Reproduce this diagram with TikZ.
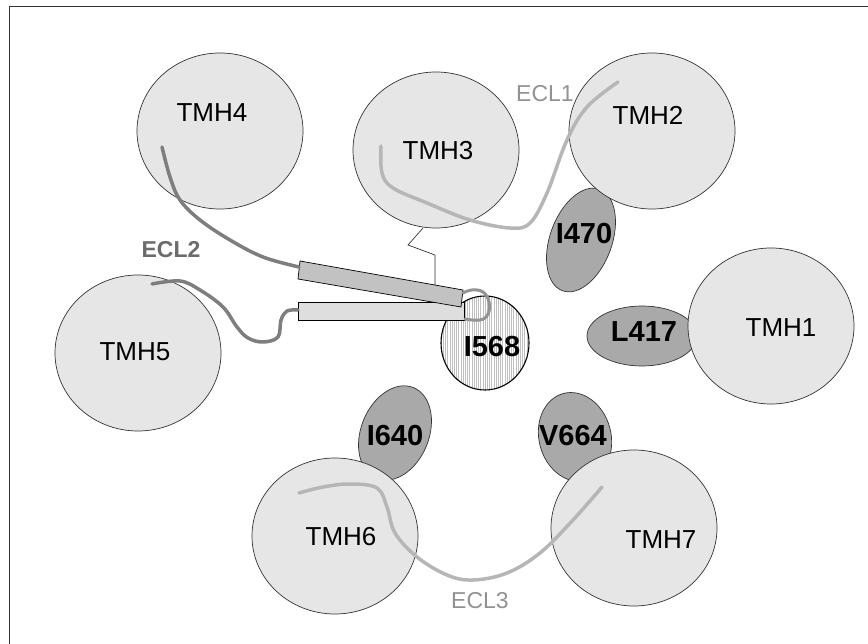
\documentclass[tikz,border=0pt]{standalone}
\usepackage{fontspec}
\newfontfamily\arialf{Liberation Sans}
\usetikzlibrary{shapes.geometric}
\definecolor{bigfill}{HTML}{E6E6E6}
\definecolor{smallfill}{HTML}{A9A9A9}
\definecolor{outl}{HTML}{333333}
\definecolor{ecldark}{HTML}{7E7E7E}
\definecolor{ecllight}{HTML}{B6B6B6}
\definecolor{rectdark}{HTML}{C2C2C2}
\definecolor{rectlight}{HTML}{DEDEDE}
\tikzset{
  bigc/.style={ellipse, draw=outl, line width=0.7pt, fill=bigfill, minimum width=166, minimum height=156, inner sep=0pt},
  smallc/.style={ellipse, draw=outl, line width=0.7pt, fill=smallfill, inner sep=0pt},
  tmhlab/.style={font=\arialf\fontsize{26}{28}\selectfont, text=black, inner sep=0pt},
  reslab/.style={font=\arialf\bfseries\fontsize{29}{32}\selectfont, text=black, inner sep=0pt},
  ecllab/.style={font=\arialf\fontsize{23}{26}\selectfont, text=ecllight!80!black, inner sep=0pt},
  ecl2lab/.style={font=\arialf\bfseries\fontsize{23}{26}\selectfont, text=ecldark!85!black, inner sep=0pt},
  loopline/.style={line width=3.5pt, line cap=round, line join=round},
  rectbox/.style={draw=black, line width=0.7pt}
}
\begin{document}
\begin{tikzpicture}[x=1pt, y=-1pt]
\useasboundingbox (0,0) rectangle (868,644);
% frame
\coordinate (fa) at (9,7);
\coordinate (fb) at (868,7);
\coordinate (fc) at (9,644);
\draw[outl, line width=1pt] (fb) -- (fa) -- (fc);

% small residue ellipses (behind helices)
\node[smallc, rotate=-20, minimum width=62, minimum height=108] (e470) at (581,240) {};
\node[smallc, minimum width=110, minimum height=60] (e417) at (642,336) {};
\node[smallc, rotate=-22, minimum width=68, minimum height=98] (e640) at (395,433) {};
\node[smallc, rotate=15, minimum width=72, minimum height=90] (e664) at (575,437) {};

% helices
\node[bigc] (h1) at (771,326) {};
\node[bigc] (h2) at (652,131) {};
\node[bigc] (h3) at (436,150) {};
\node[bigc] (h4) at (220,131) {};
\node[bigc] (h5) at (138,353) {};
\node[bigc] (h6) at (335,536) {};
\node[bigc] (h7) at (634,528) {};

% I568 hatched ellipse
\node[ellipse, fill=white, minimum width=88, minimum height=94, inner sep=0pt] (e568) at (485,343) {};
\begin{scope}
  \clip (485,343) ellipse [x radius=44, y radius=47];
  \foreach \xx in {441,443.2,...,530} {
    \draw[gray!50, line width=0.4pt] (\xx,290) -- (\xx,395);
  }
\end{scope}
\draw[black, line width=1.1pt] (485,343) ellipse [x radius=44, y radius=47];

% thin zigzag from TMH3
\coordinate (z0) at (423,228);
\coordinate (z1) at (408,245);
\coordinate (z2) at (435,255);
\coordinate (z3) at (435,285);
\draw[outl, line width=0.7pt] (z0) -- (z1) -- (z2) -- (z3);

% beta strands (rectangles)
\draw[rectbox, fill=rectlight] (298,302) rectangle (464,320);
\draw[rectbox, fill=rectdark] (300,261) -- (463,290) -- (461,307) -- (298,279) -- cycle;

% ECL2
\draw[ecldark, loopline] plot[smooth, tension=0.6] coordinates {(162,147) (170,177) (180,200) (200,220) (230,240) (263,257) (299,267)};
\draw[ecldark, loopline] plot[smooth, tension=0.6] coordinates {(152,284) (180,281) (200,290) (223,307) (237,327) (248,338) (263,342) (278,337) (281,320) (287,311) (298,310)};
% loop near I568
\draw[gray!85, line width=3pt, line cap=round] plot[smooth, tension=0.7] coordinates {(463,293) (472,290) (483,292) (489,302) (488,314) (480,320) (465,319)};

% ECL1
\draw[ecllight, loopline] plot[smooth, tension=0.6] coordinates {(381,146) (382,173) (393,188) (427,203) (470,220) (510,228) (530,223) (547,193) (567,140) (587,107) (618,82)};
% ECL3
\draw[ecllight, loopline] plot[smooth, tension=0.6] coordinates {(299,493) (323,487) (350,484) (377,488) (387,507) (395,533) (417,557) (447,575) (473,580) (507,573) (540,553) (573,520) (602,487)};

% labels
\node[tmhlab] (t1) at (781,328) {TMH1};
\node[tmhlab] (t2) at (648,115) {TMH2};
\node[tmhlab] (t3) at (438,151) {TMH3};
\node[tmhlab] (t4) at (212,113) {TMH4};
\node[tmhlab] (t5) at (135,352) {TMH5};
\node[tmhlab] (t6) at (341,537) {TMH6};
\node[tmhlab] (t7) at (661,540) {TMH7};

\node[reslab] (r470) at (584,234) {I470};
\node[reslab] (r417) at (644,332) {L417};
\node[reslab] (r568) at (492,347) {I568};
\node[reslab] (r640) at (395,436) {I640};
\node[reslab] (r664) at (573,436) {V664};

\node[ecllab] (c1) at (545,94) {ECL1};
\node[ecl2lab] (c2) at (171,250) {ECL2};
\node[ecllab] (c3) at (480,601) {ECL3};
\end{tikzpicture}
\end{document}
